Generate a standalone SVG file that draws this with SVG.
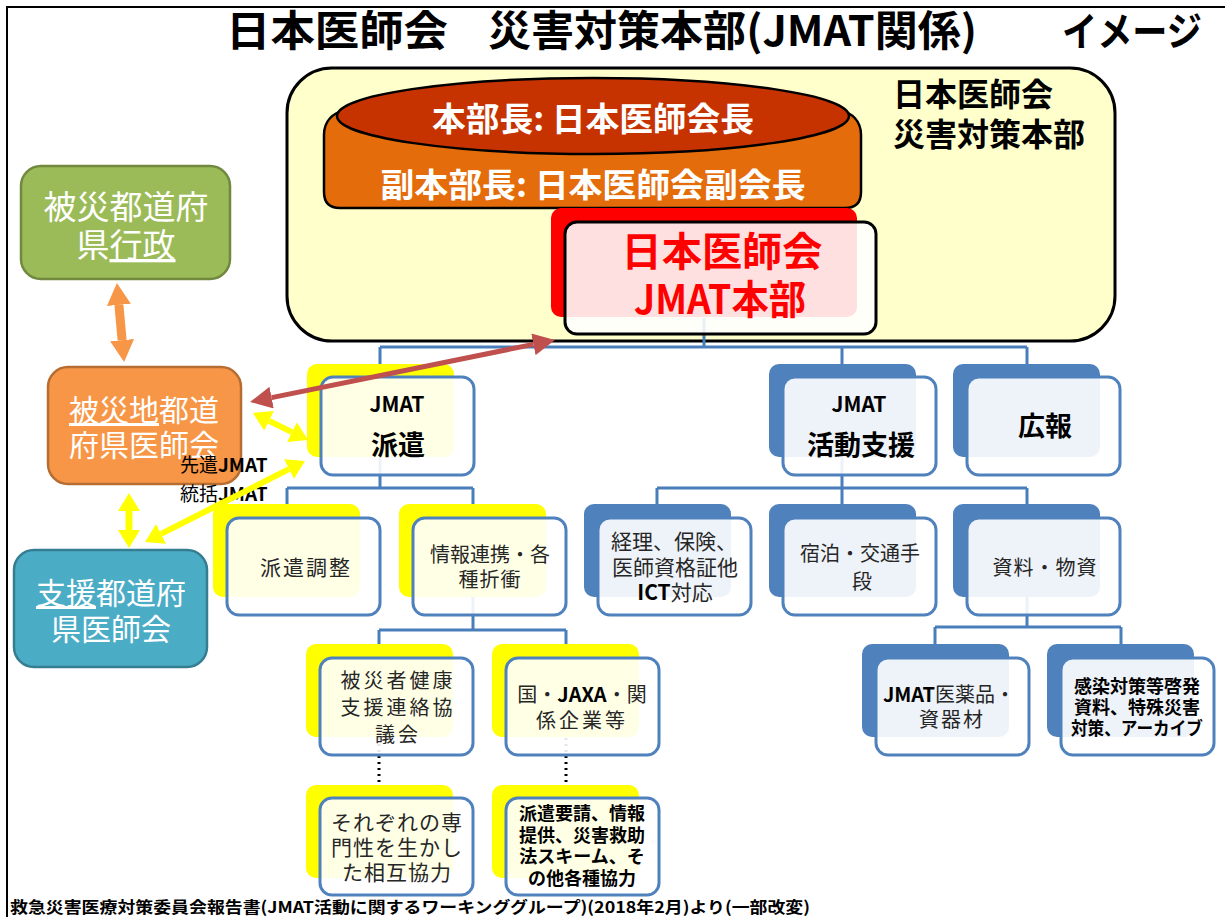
<svg xmlns="http://www.w3.org/2000/svg" width="1225" height="917" viewBox="0 0 1225 917">
<defs>
<style>
text{font-family:"Noto Sans CJK JP","Noto Sans CJK SC",sans-serif;}
.t{fill:#262626;text-anchor:middle;}
.b{font-weight:bold;fill:#000;}
.w{fill:#fff;text-anchor:middle;}
.back-y{fill:#FFFF00;}
.back-b{fill:#4F81BD;}
.front{fill:#fff;fill-opacity:0.9;stroke:#4F81BD;stroke-width:3;}
.conn{fill:none;stroke:#4A7EBB;stroke-width:3;}
.dot{fill:none;stroke:#000;stroke-width:3;stroke-dasharray:2 4;}
</style>
<marker id="hY" viewBox="0 0 18 22" refX="0" refY="11" markerWidth="18" markerHeight="22" markerUnits="userSpaceOnUse" orient="auto-start-reverse"><path d="M0,0 L18,11 L0,22 Z" fill="#FFFF00"/></marker>
<marker id="hO" viewBox="0 0 22 24" refX="0" refY="12" markerWidth="22" markerHeight="24" markerUnits="userSpaceOnUse" orient="auto-start-reverse"><path d="M0,0 L22,12 L0,24 Z" fill="#F79646"/></marker>
<marker id="hR" viewBox="0 0 22 22" refX="0" refY="11" markerWidth="22" markerHeight="22" markerUnits="userSpaceOnUse" orient="auto-start-reverse"><path d="M0,0 L22,11 L0,22 Z" fill="#C0504D"/></marker>
</defs>
<rect width="1225" height="917" fill="#fff"/>
<path d="M7,917 V7 H1225" fill="none" stroke="#000" stroke-width="2"/>

<g id="title" class="b" font-weight="bold">
<text x="226" y="46" font-size="42" font-weight="bold" textLength="222" lengthAdjust="spacingAndGlyphs">日本医師会</text>
<text x="488" y="46" font-size="42" font-weight="bold" textLength="489" lengthAdjust="spacingAndGlyphs">災害対策本部(JMAT関係)</text>
<text x="1062" y="46" font-size="40" font-weight="bold" textLength="140" lengthAdjust="spacingAndGlyphs">イメージ</text>
</g>

<g id="hq">
<rect x="287" y="68" width="828" height="273" rx="45" fill="#FFFFCC" stroke="#000" stroke-width="3"/>
<text x="893" y="106" font-size="32" font-weight="bold" class="b">日本医師会</text>
<text x="893" y="146" font-size="32" font-weight="bold" class="b">災害対策本部</text>
</g>

<g id="vice-chief">
<path d="M324,135 C324,121 333,113 345,110 L840,110 C852,113 861,121 861,135 L861,192 Q861,208 845,208 L340,208 Q324,208 324,192 Z" fill="#E46C0A" stroke="#000" stroke-width="2.5"/>
<text x="593" y="197" font-size="33" font-weight="bold" class="w" textLength="425" lengthAdjust="spacingAndGlyphs">副本部長: 日本医師会副会長</text>
</g>
<g id="chief">
<ellipse cx="593" cy="116" rx="256" ry="38" fill="#C63300" stroke="#000" stroke-width="2.5"/>
<text x="593" y="131" font-size="33" font-weight="bold" class="w" textLength="322" lengthAdjust="spacingAndGlyphs">本部長: 日本医師会長</text>
</g>

<g id="connectors">
<path class="conn" d="M704,318 V347 M380,347 H1027 M380,347 V364 M842,347 V364 M1027,347 V364"/>
<path class="conn" d="M380,457 V488 M287,488 H473 M287,488 V504 M473,488 V504"/>
<path class="conn" d="M842,457 V488 M657,488 H1027 M657,488 V504 M842,488 V504 M1027,488 V504"/>
<path class="conn" d="M473,597 V630 M379,630 H566 M379,630 V644 M566,630 V644"/>
<path class="conn" d="M1027,597 V627 M935,627 H1121 M935,627 V644 M1121,627 V644"/>
<path class="dot" d="M379,738 V784 M566,738 V784"/>
</g>

<g id="jmat-hq">
<rect x="551" y="208" width="306" height="109" rx="10" fill="#FF0000"/>
<rect x="565" y="222" width="311" height="112" rx="12" fill="#fff" fill-opacity="0.88" stroke="#000" stroke-width="3"/>
<text x="722" y="266" font-size="40" font-weight="bold" fill="#FF0000" text-anchor="middle" textLength="201" lengthAdjust="spacingAndGlyphs">日本医師会</text>
<text x="720" y="314" font-size="40" font-weight="bold" fill="#FF0000" text-anchor="middle" textLength="172" lengthAdjust="spacingAndGlyphs">JMAT本部</text>
</g>

<g id="pref-gov">
<rect x="21" y="166" width="209" height="113" rx="20" fill="#9BBB59" stroke="#71893F" stroke-width="2.5"/>
<text x="126" y="219" font-size="33" class="w">被災都道府</text>
<text x="126" y="257" font-size="33" class="w">県<tspan text-decoration="underline">行政</tspan></text>
</g>

<g id="affected-ma">
<rect x="48" y="367" width="193" height="117" rx="20" fill="#F79646" stroke="#B66D31" stroke-width="2.5"/>
<text x="144" y="421" font-size="30" class="w"><tspan text-decoration="underline">被災地</tspan>都道</text>
<text x="144" y="456" font-size="30" class="w">府県医師会</text>
</g>

<g id="support-ma">
<rect x="14" y="550" width="193" height="117" rx="20" fill="#4BACC6" stroke="#357D91" stroke-width="2.5"/>
<text x="111" y="604" font-size="30" class="w"><tspan text-decoration="underline">支援</tspan>都道府</text>
<text x="111" y="640" font-size="30" class="w">県医師会</text>
</g>

<g id="jmat-dispatch">
<rect class="back-y" x="307" y="364" width="147" height="93" rx="10"/>
<rect class="front" x="321" y="377" width="153" height="98" rx="12"/>
<text class="t b" x="397" y="412" font-size="21">JMAT</text>
<text class="t b" x="398" y="455" font-size="27">派遣</text>
</g>

<g id="jmat-support">
<rect class="back-b" x="769" y="364" width="147" height="93" rx="10"/>
<rect class="front" x="783" y="377" width="153" height="98" rx="12"/>
<text class="t b" x="859" y="412" font-size="21">JMAT</text>
<text class="t b" x="861" y="455" font-size="27">活動支援</text>
</g>

<g id="pr">
<rect class="back-b" x="953" y="364" width="147" height="93" rx="10"/>
<rect class="front" x="967" y="377" width="153" height="98" rx="12"/>
<text class="t b" x="1045" y="436" font-size="27">広報</text>
</g>

<g id="dispatch-coord">
<rect class="back-y" x="213" y="504" width="147" height="93" rx="10"/>
<rect class="front" x="227" y="518" width="153" height="97" rx="12"/>
<text class="t" x="306" y="575" font-size="21" letter-spacing="2">派遣調整</text>
</g>

<g id="info-liaison">
<rect class="back-y" x="399" y="504" width="147" height="93" rx="10"/>
<rect class="front" x="413" y="518" width="153" height="97" rx="12"/>
<text class="t" x="490" y="562" font-size="20">情報連携・各</text>
<text class="t" x="490" y="587" font-size="20" letter-spacing="1">種折衝</text>
</g>

<g id="accounting">
<rect class="back-b" x="584" y="504" width="147" height="93" rx="10"/>
<rect class="front" x="598" y="518" width="153" height="97" rx="12"/>
<text class="t" x="674" y="549" font-size="21">経理、保険、</text>
<text class="t" x="675" y="575" font-size="21">医師資格証他</text>
<text class="t" x="675" y="600" font-size="21"><tspan font-weight="bold" fill="#000">ICT</tspan>対応</text>
</g>

<g id="lodging">
<rect class="back-b" x="769" y="504" width="147" height="93" rx="10"/>
<rect class="front" x="783" y="518" width="153" height="97" rx="12"/>
<text class="t" x="860" y="561" font-size="20">宿泊・交通手</text>
<text class="t" x="862" y="589" font-size="20">段</text>
</g>

<g id="materials">
<rect class="back-b" x="953" y="504" width="147" height="93" rx="10"/>
<rect class="front" x="967" y="518" width="153" height="97" rx="12"/>
<text class="t" x="1045" y="575" font-size="20" letter-spacing="1">資料・物資</text>
</g>

<g id="health-council">
<rect class="back-y" x="306" y="644" width="147" height="93" rx="10"/>
<rect class="front" x="320" y="658" width="153" height="97" rx="12"/>
<text class="t" x="398" y="688" font-size="20" letter-spacing="3">被災者健康</text>
<text class="t" x="398" y="715" font-size="20" letter-spacing="3">支援連絡協</text>
<text class="t" x="398" y="742" font-size="20" letter-spacing="3">議会</text>
</g>

<g id="jaxa">
<rect class="back-y" x="492" y="644" width="147" height="93" rx="10"/>
<rect class="front" x="506" y="658" width="153" height="97" rx="12"/>
<text class="t" x="582" y="702" font-size="20">国・<tspan font-weight="bold" fill="#000">JAXA</tspan>・関</text>
<text class="t" x="582" y="728" font-size="20" letter-spacing="3">係企業等</text>
</g>

<g id="expertise">
<rect class="back-y" x="306" y="785" width="147" height="93" rx="10"/>
<rect class="front" x="320" y="798" width="153" height="97" rx="12"/>
<text class="t" x="397" y="830" font-size="21" letter-spacing="1">それぞれの専</text>
<text class="t" x="397" y="855" font-size="21" letter-spacing="1">門性を生かし</text>
<text class="t" x="397" y="880" font-size="21" letter-spacing="1">た相互協力</text>
</g>

<g id="requests">
<rect class="back-y" x="492" y="785" width="147" height="93" rx="10"/>
<rect class="front" x="506" y="798" width="153" height="97" rx="12"/>
<text class="t b" x="582" y="820" font-size="18">派遣要請、情報</text>
<text class="t b" x="582" y="842" font-size="18">提供、災害救助</text>
<text class="t b" x="582" y="863" font-size="18">法スキーム、そ</text>
<text class="t b" x="582" y="885" font-size="18">の他各種協力</text>
</g>

<g id="medicine">
<rect class="back-b" x="862" y="644" width="147" height="93" rx="10"/>
<rect class="front" x="876" y="658" width="153" height="97" rx="12"/>
<text class="t" x="949" y="702" font-size="20"><tspan font-weight="bold" fill="#000">JMAT</tspan>医薬品・</text>
<text class="t" x="952" y="727" font-size="20" letter-spacing="2">資器材</text>
</g>

<g id="infection">
<rect class="back-b" x="1047" y="644" width="147" height="93" rx="10"/>
<rect class="front" x="1061" y="658" width="153" height="97" rx="12"/>
<text class="t b" x="1137" y="693" font-size="18">感染対策等啓発</text>
<text class="t b" x="1137" y="714" font-size="18">資料、特殊災害</text>
<text class="t b" x="1137" y="735" font-size="18" textLength="132" lengthAdjust="spacingAndGlyphs">対策、アーカイブ</text>
</g>

<g id="advance-label">
<text x="180" y="472" font-size="19" fill="#000">先遣<tspan font-weight="bold">JMAT</tspan></text>
<text x="180" y="501" font-size="19" fill="#000">統括<tspan font-weight="bold">JMAT</tspan></text>
</g>

<g id="relations">
<line x1="118.9" y1="304.9" x2="122.1" y2="340.1" stroke="#F79646" stroke-width="9" marker-start="url(#hO)" marker-end="url(#hO)"/>
<line x1="129" y1="511" x2="129" y2="530" stroke="#FFFF00" stroke-width="7" marker-start="url(#hY)" marker-end="url(#hY)"/>
<line x1="269.1" y1="420.9" x2="291.9" y2="432.1" stroke="#FFFF00" stroke-width="6" marker-start="url(#hY)" marker-end="url(#hY)"/>
<line x1="288.9" y1="469.1" x2="161.1" y2="533.9" stroke="#FFFF00" stroke-width="6" marker-start="url(#hY)" marker-end="url(#hY)"/>
<line x1="271.6" y1="397.6" x2="533.4" y2="344.4" stroke="#C0504D" stroke-width="5" marker-start="url(#hR)" marker-end="url(#hR)"/>
</g>

<g id="footer">
<text x="10" y="913" font-size="16" font-weight="bold" fill="#000" textLength="800" lengthAdjust="spacingAndGlyphs">救急災害医療対策委員会報告書(JMAT活動に関するワーキンググループ)(2018年2月)より(一部改変)</text>
</g>
</svg>
